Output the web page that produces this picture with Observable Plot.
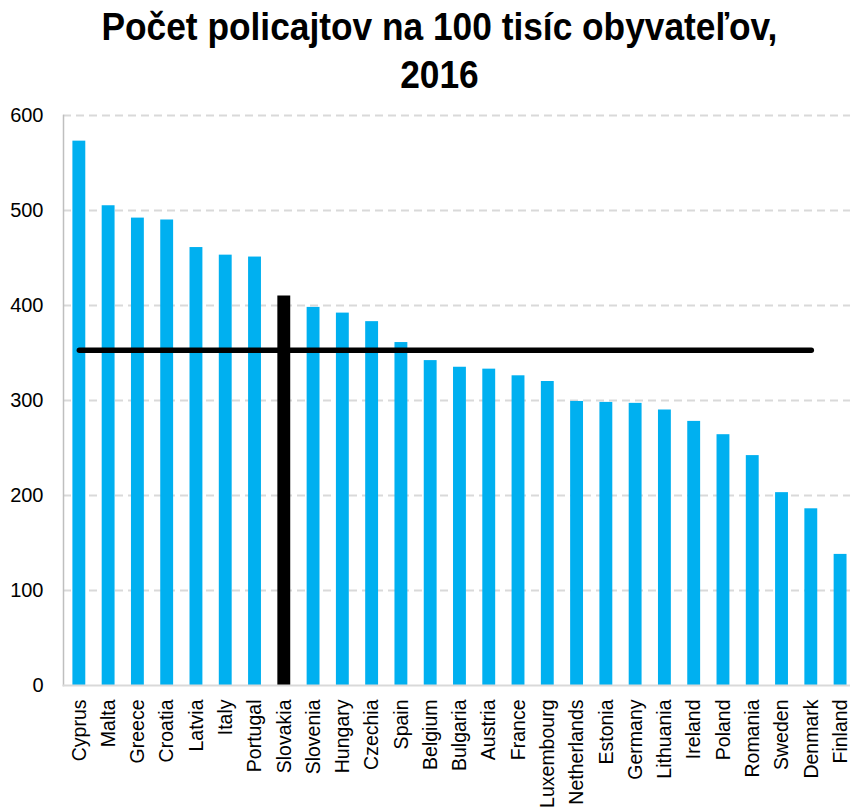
<!DOCTYPE html>
<html>
<head>
<meta charset="utf-8">
<script src="https://cdn.jsdelivr.net/npm/d3@7"></script>
<script src="https://cdn.jsdelivr.net/npm/@observablehq/plot@0.6"></script>
<style>
  body { margin: 0; background: #fff; font-family: "Liberation Sans", Arial, sans-serif; }
  #title { height: 105px; text-align: center; box-sizing: border-box; padding-top: 3px; padding-left: 28px; }
  #title span { display: inline-block; font-weight: bold; font-size: 39px; line-height: 48px; color: #000; transform: scaleX(0.905); transform-origin: center; }
  #chart svg { display: block; }
</style>
</head>
<body>
<div id="title"><span>Počet policajtov na 100 tisíc obyvateľov,<br>2016</span></div>
<div id="chart"></div>
<script>
const countries = ["Cyprus","Malta","Greece","Croatia","Latvia","Italy","Portugal","Slovakia","Slovenia","Hungary","Czechia","Spain","Belgium","Bulgaria","Austria","France","Luxembourg","Netherlands","Estonia","Germany","Lithuania","Ireland","Poland","Romania","Sweden","Denmark","Finland"];
const values = [573,505,492,490,461,453,451,410,398,392,383,361,342,335,333,326,320,299,298,297,290,278,264,242,203,186,138];
const highlight = "Slovakia";
const average = 353;
const averageFrom = "Cyprus";
const averageTo = "Denmark";
const yTicks = [0,100,200,300,400,500,600];

const data = countries.map((c, i) => ({country: c, value: values[i]}));
const avgData = [{country: averageFrom, value: average}, {country: averageTo, value: average}];

const chart = Plot.plot({
  width: 850,
  height: 704,
  marginTop: 10,
  marginBottom: 124,
  marginLeft: 63,
  marginRight: 0,
  style: {fontFamily: "'Liberation Sans', Arial, sans-serif", background: "#fff", color: "#000"},
  x: {domain: countries, paddingInner: 0.56, paddingOuter: 0.22, align: 0.73, round: false, label: null},
  y: {domain: [0, 600], label: null},
  marks: [
    Plot.gridY(yTicks.filter(d => d > 0), {stroke: "#d9d9d9", strokeOpacity: 1, strokeWidth: 2, strokeDasharray: "8,5"}),
    Plot.barY(data, {x: "country", y: "value", fill: d => d.country === highlight ? "#000000" : "#00B0F0"}),
    Plot.frame({anchor: "left", stroke: "#bfbfbf", strokeWidth: 1.5}),
    Plot.frame({anchor: "bottom", stroke: "#d9d9d9", strokeWidth: 2}),
    Plot.lineY(avgData, {x: "country", y: "value", stroke: "#000", strokeWidth: 5.5}),
    Plot.axisY(yTicks, {tickSize: 0, tickPadding: 20, fontSize: 20, fill: "#000", label: null}),
    Plot.axisX({tickSize: 0, tickRotate: -90, tickPadding: 14, fontSize: 19.5, fill: "#000", label: null})
  ]
});
document.getElementById("chart").appendChild(chart);
</script>
</body>
</html>
